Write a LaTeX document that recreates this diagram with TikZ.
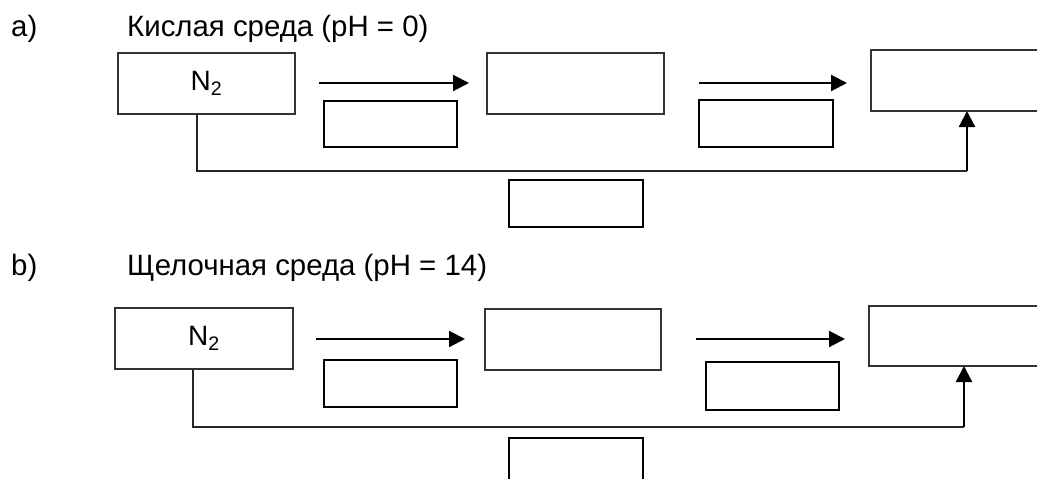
\documentclass[tikz,border=0pt]{standalone}
\usepackage{fontspec}
\setmainfont{Liberation Sans}
\usetikzlibrary{arrows.meta}

\tikzset{
  bigbox/.style={draw=black!80, line width=1.2pt, minimum width=177pt,
    minimum height=61pt, inner sep=0pt, outer sep=0pt, font=\fontsize{28}{32}\selectfont},
  % box running off the right margin: outline without its right side
  openbox/.style={bigbox, draw=none, minimum width=300pt},
  opensides/.style={draw=black!80, line width=1.2pt},
  smallbox/.style={draw=black, line width=2pt, minimum width=133pt,
    minimum height=46pt, inner sep=0pt, outer sep=0pt},
  label/.style={anchor=base west, inner sep=0pt, font=\fontsize{29.4}{34}\selectfont},
  reaction/.style={line width=2.2pt, -{Triangle[length=16pt,width=16pt]}},
  link/.style={draw=black!85, line width=1.2pt},
  linkup/.style={line width=2.2pt, -{Triangle[length=16pt,width=16pt]}}
}

\begin{document}
\begin{tikzpicture}[x=1pt, y=-1pt]
\useasboundingbox (0,0) rectangle (1037,479);
\clip (0,0) rectangle (1037,479);

% ---- a) acidic medium ----
\node[label] (ta) at (11,36) {a)};
\node[label] (titlea) at (127,36) {Кислая среда (pH = 0)};

\node[bigbox] (n2a) at (206.5,83.5) {N\textsubscript{2}};
\node[bigbox] (b2a) at (575.5,83.5) {};
\node[openbox] (b3a) at (1021,80.5) {};
\draw[opensides] (b3a.north east) -- (b3a.north west) -- (b3a.south west) -- (b3a.south east);
\node[smallbox] (s1a) at (390.5,124) {};
\node[smallbox, minimum width=134pt, minimum height=47pt] (s2a) at (766,123.5) {};
\node[smallbox, minimum width=134pt, minimum height=47pt] (ba) at (576,203.5) {};

\draw[reaction] ([xshift=24pt]n2a.east |- 0,83) -- ([xshift=-18pt]b2a.west |- 0,83);
\draw[reaction] ([xshift=35pt]b2a.east |- 0,83) -- ([xshift=-24pt]b3a.west |- 0,83);

\coordinate (la) at (197,171);
\coordinate (ra) at (967,171);
\draw[link] (n2a.south -| la) -- (la) -- (ra);
\draw[linkup] (ra) -- (ra |- b3a.south);

% ---- b) alkaline medium ----
\node[label] (tb) at (11,275) {b)};
\node[label] (titleb) at (127,275) {Щелочная среда (pH = 14)};

\node[bigbox, minimum width=178pt] (n2b) at (204,338.5) {N\textsubscript{2}};
\node[bigbox, minimum width=176pt] (b2b) at (573,339.5) {};
\node[openbox, minimum height=60pt] (b3b) at (1019,336) {};
\draw[opensides] (b3b.north east) -- (b3b.north west) -- (b3b.south west) -- (b3b.south east);
\node[smallbox, minimum height=47pt] (s1b) at (390.5,383.5) {};
\node[smallbox, minimum height=48pt] (s2b) at (772.5,386) {};
\node[smallbox, minimum width=134pt, minimum height=47pt] (bb) at (576,461.5) {};

\draw[reaction] ([xshift=23pt]n2b.east |- 0,339) -- ([xshift=-20pt]b2b.west |- 0,339);
\draw[reaction] ([xshift=35pt]b2b.east |- 0,339) -- ([xshift=-24pt]b3b.west |- 0,339);

\coordinate (lb) at (193,427);
\coordinate (rb) at (964,427);
\draw[link] (n2b.south -| lb) -- (lb) -- (rb);
\draw[linkup] (rb) -- (rb |- b3b.south);
\end{tikzpicture}
\end{document}
